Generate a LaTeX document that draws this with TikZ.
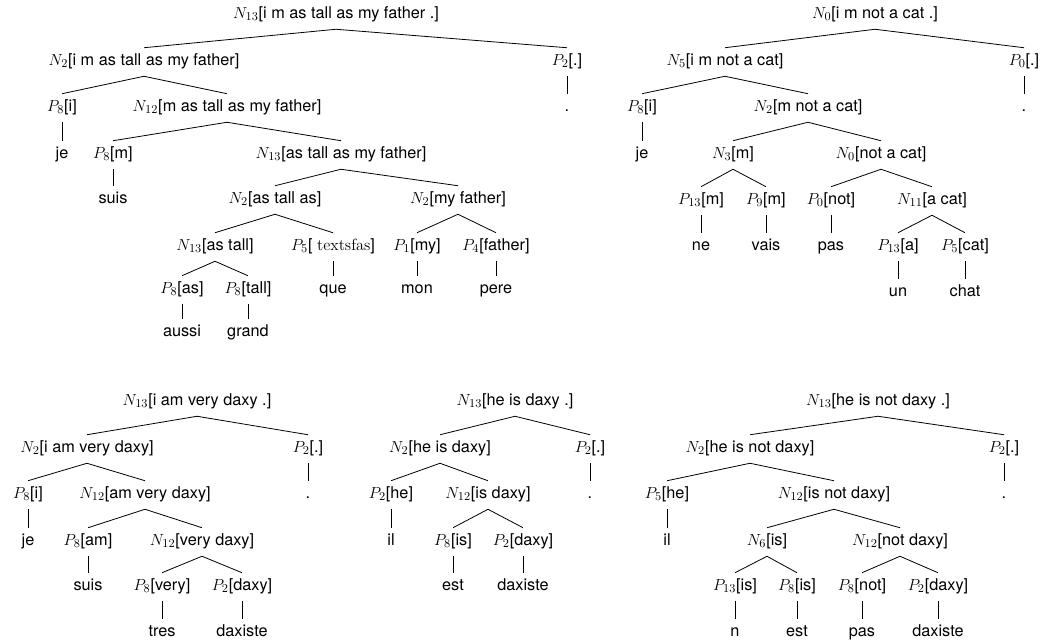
\documentclass[tikz,border=0pt]{standalone}
\usepackage[no-math]{fontspec}
\setsansfont{TeX Gyre Heros}
\begin{document}
\begin{tikzpicture}[x=0.75pt,y=-0.75pt,
  t/.style={inner sep=0pt, minimum height=21pt, text height=7.6pt, text depth=2.6pt,
    font=\sffamily\fontsize{12.2}{14}\selectfont},
  br/.style={line width=0.6pt}]
\useasboundingbox (0,0) rectangle (1043,642);
% ---------- Tree 1 ----------
\node[t] (a0) at (336,15) {$N_{13}$[i m as tall as my father .]};
\node[t] (a1) at (144,62) {$N_{2}$[i m as tall as my father]};
\node[t] (a2) at (567,62) {$P_{2}$[.]};
\node[t] (a3) at (62,108) {$P_{8}$[i]};
\node[t] (a4) at (227,108) {$N_{12}$[m as tall as my father]};
\node[t] (a5) at (567,108) {.};
\node[t] (a6) at (62,155) {je};
\node[t] (a7) at (113,155) {$P_{8}$[m]};
\node[t] (a8) at (341,155) {$N_{13}$[as tall as my father]};
\node[t] (a9) at (113,200) {suis};
\node[t] (a10) at (275,200) {$N_{2}$[as tall as]};
\node[t] (a11) at (458,200) {$N_{2}$[my father]};
\node[t] (a12) at (215,247) {$N_{13}$[as tall]};
\node[t] (a13) at (333,247) {$P_{5}$[ {\rmfamily textsfas}]};
\node[t] (a14) at (417,247) {$P_{1}$[my]};
\node[t] (a15) at (496,247) {$P_{4}$[father]};
\node[t] (a16) at (182,290) {$P_{8}$[as]};
\node[t] (a17) at (248,290) {$P_{8}$[tall]};
\node[t] (a18) at (333,290) {que};
\node[t] (a19) at (417,290) {mon};
\node[t] (a20) at (496,290) {pere};
\node[t] (a21) at (182,333) {aussi};
\node[t] (a22) at (248,333) {grand};
\foreach \p/\c in {a0/a1,a0/a2,a2/a5,a1/a3,a1/a4,a3/a6,a4/a7,a4/a8,a7/a9,a8/a10,a8/a11,
  a10/a12,a10/a13,a11/a14,a11/a15,a12/a16,a12/a17,a13/a18,a14/a19,a15/a20,a16/a21,a17/a22}
  \draw[br] (\p.south) -- (\c.north);
% ---------- Tree 2 ----------
\node[t] (b0) at (875,15) {$N_{0}$[i m not a cat .]};
\node[t] (b1) at (725,62) {$N_{5}$[i m not a cat]};
\node[t] (b2) at (1024,62) {$P_{0}$[.]};
\node[t] (b3) at (642,108) {$P_{8}$[i]};
\node[t] (b4) at (808,108) {$N_{2}$[m not a cat]};
\node[t] (b5) at (1024,108) {.};
\node[t] (b6) at (642,155) {je};
\node[t] (b7) at (733,155) {$N_{3}$[m]};
\node[t] (b8) at (881,155) {$N_{0}$[not a cat]};
\node[t] (b9) at (701,201) {$P_{13}$[m]};
\node[t] (b10) at (766,201) {$P_{9}$[m]};
\node[t] (b11) at (831,201) {$P_{0}$[not]};
\node[t] (b12) at (932,201) {$N_{11}$[a cat]};
\node[t] (b13) at (701,247) {ne};
\node[t] (b14) at (766,247) {vais};
\node[t] (b15) at (831,247) {pas};
\node[t] (b16) at (898,247) {$P_{13}$[a]};
\node[t] (b17) at (965,247) {$P_{5}$[cat]};
\node[t] (b18) at (898,293) {un};
\node[t] (b19) at (965,293) {chat};
\foreach \p/\c in {b0/b1,b0/b2,b2/b5,b1/b3,b1/b4,b3/b6,b4/b7,b4/b8,b7/b9,b7/b10,b8/b11,b8/b12,
  b9/b13,b10/b14,b11/b15,b12/b16,b12/b17,b16/b18,b17/b19}
  \draw[br] (\p.south) -- (\c.north);
% ---------- Tree 3 ----------
\node[t] (c0) at (197,402) {$N_{13}$[i am very daxy .]};
\node[t] (c1) at (87,449) {$N_{2}$[i am very daxy]};
\node[t] (c2) at (308,449) {$P_{2}$[.]};
\node[t] (c3) at (28,495) {$P_{8}$[i]};
\node[t] (c4) at (145,495) {$N_{12}$[am very daxy]};
\node[t] (c5) at (308,495) {.};
\node[t] (c6) at (28,542) {je};
\node[t] (c7) at (88,542) {$P_{8}$[am]};
\node[t] (c8) at (202,542) {$N_{12}$[very daxy]};
\node[t] (c9) at (88,587) {suis};
\node[t] (c10) at (162,587) {$P_{8}$[very]};
\node[t] (c11) at (242,587) {$P_{2}$[daxy]};
\node[t] (c12) at (162,633) {tres};
\node[t] (c13) at (242,633) {daxiste};
\foreach \p/\c in {c0/c1,c0/c2,c2/c5,c1/c3,c1/c4,c3/c6,c4/c7,c4/c8,c7/c9,c8/c10,c8/c11,c10/c12,c11/c13}
  \draw[br] (\p.south) -- (\c.north);
% ---------- Tree 4 ----------
\node[t] (d0) at (515,402) {$N_{13}$[he is daxy .]};
\node[t] (d1) at (440,449) {$N_{2}$[he is daxy]};
\node[t] (d2) at (590,449) {$P_{2}$[.]};
\node[t] (d3) at (391,495) {$P_{2}$[he]};
\node[t] (d4) at (488,495) {$N_{12}$[is daxy]};
\node[t] (d5) at (590,495) {.};
\node[t] (d6) at (391,542) {il};
\node[t] (d7) at (453,542) {$P_{8}$[is]};
\node[t] (d8) at (523,542) {$P_{2}$[daxy]};
\node[t] (d9) at (453,587) {est};
\node[t] (d10) at (523,587) {daxiste};
\foreach \p/\c in {d0/d1,d0/d2,d2/d5,d1/d3,d1/d4,d3/d6,d4/d7,d4/d8,d7/d9,d8/d10}
  \draw[br] (\p.south) -- (\c.north);
% ---------- Tree 5 ----------
\node[t] (e0) at (878,402) {$N_{13}$[he is not daxy .]};
\node[t] (e1) at (750,449) {$N_{2}$[he is not daxy]};
\node[t] (e2) at (1004,449) {$P_{2}$[.]};
\node[t] (e3) at (667,495) {$P_{5}$[he]};
\node[t] (e4) at (834,495) {$N_{12}$[is not daxy]};
\node[t] (e5) at (1004,495) {.};
\node[t] (e6) at (667,542) {il};
\node[t] (e7) at (767,542) {$N_{6}$[is]};
\node[t] (e8) at (900,542) {$N_{12}$[not daxy]};
\node[t] (e9) at (735,587) {$P_{13}$[is]};
\node[t] (e10) at (797,587) {$P_{8}$[is]};
\node[t] (e11) at (862,587) {$P_{8}$[not]};
\node[t] (e12) at (938,587) {$P_{2}$[daxy]};
\node[t] (e13) at (735,633) {n};
\node[t] (e14) at (797,633) {est};
\node[t] (e15) at (862,633) {pas};
\node[t] (e16) at (938,633) {daxiste};
\foreach \p/\c in {e0/e1,e0/e2,e2/e5,e1/e3,e1/e4,e3/e6,e4/e7,e4/e8,e7/e9,e7/e10,e8/e11,e8/e12,
  e9/e13,e10/e14,e11/e15,e12/e16}
  \draw[br] (\p.south) -- (\c.north);
\end{tikzpicture}
\end{document}
